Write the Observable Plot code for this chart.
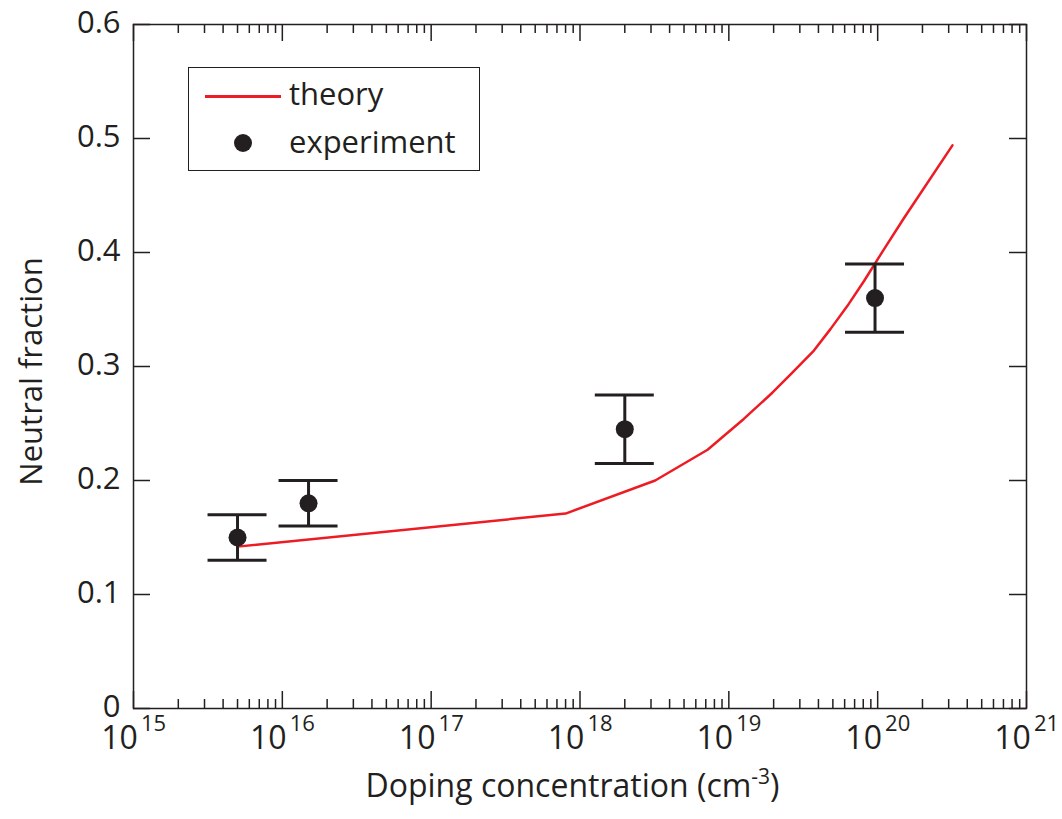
<!DOCTYPE html>
<html>
<head>
<meta charset="utf-8">
<script src="https://cdn.jsdelivr.net/npm/d3@7"></script>
<script src="https://cdn.jsdelivr.net/npm/@observablehq/plot@0.6"></script>
<style>
  html, body { margin: 0; padding: 0; background: #fff; }
  #wrap { position: relative; width: 1062px; height: 819px; font-family: "Open Sans", sans-serif; color: #231f20; }
  #legend { position: absolute; left: 188px; top: 67px; width: 290px; height: 102px; border: 1.5px solid #231f20; background: #fff; }
  #legend .line { position: absolute; left: 16px; top: 27px; width: 76px; height: 2.5px; background: #ed1c24; }
  #legend .dot { position: absolute; left: 44.5px; top: 66px; width: 18px; height: 18px; border-radius: 50%; background: #231f20; }
  #legend .lab { position: absolute; left: 100px; font-size: 31px; line-height: 1; white-space: nowrap; }
  #xtitle { position: absolute; left: 126px; width: 893px; top: 767px; text-align: center; font-size: 32px; line-height: 1; white-space: nowrap; }
  #xtitle sup { font-size: 21px; position: relative; top: -1px; }
</style>
</head>
<body>
<div id="wrap"></div>
<script>
// Theory curve
const theoryX = [5e15, 8e17, 3.2e18, 7.2e18, 1.26e19, 1.96e19, 2.6e19, 3.73e19, 4.83e19, 6.25e19, 8.1e19, 1.08e20, 1.5e20, 3.18e20];
const theoryY = [0.142, 0.171, 0.200, 0.227, 0.254, 0.277, 0.293, 0.314, 0.333, 0.353, 0.375, 0.401, 0.430, 0.494];
// Experiment
const expX  = [5e15, 1.5e16, 2e18, 9.6e19];
const expY  = [0.15, 0.18, 0.245, 0.36];
const expLo = [0.13, 0.16, 0.215, 0.33];
const expHi = [0.17, 0.20, 0.275, 0.39];
// Ticks
const decades = [1e15, 1e16, 1e17, 1e18, 1e19, 1e20, 1e21];
const exponents = ["15", "16", "17", "18", "19", "20", "21"];
const yTicks = [0, 0.1, 0.2, 0.3, 0.4, 0.5, 0.6];
const yTickLabels = ["0", "0.1", "0.2", "0.3", "0.4", "0.5", "0.6"];
const minorX = [];
for (let e = 15; e < 21; e++) for (let m = 2; m <= 9; m++) minorX.push(m * Math.pow(10, e));

const theory = theoryX.map((x, i) => ({x, y: theoryY[i]}));
const exp = expX.map((x, i) => ({x, y: expY[i], lo: expLo[i], hi: expHi[i]}));
const decadeData = decades.map((d, i) => ({d, e: exponents[i]}));

const W = 1062, H = 770, mt = 24, mb = 62, ml = 133, mr = 36;
const pw = W - ml - mr, ph = H - mt - mb;
const ink = "#231f20";
const majorLen = 17, minorLen = 9, capHalf = 29.5;

const plot = Plot.plot({
  width: W, height: H,
  marginTop: mt, marginBottom: mb, marginLeft: ml, marginRight: mr,
  style: {fontFamily: "'Open Sans', sans-serif", color: ink, background: "#fff"},
  x: {type: "log", domain: [1e15, 1e21], axis: null},
  y: {domain: [0, 0.6], axis: null},
  marks: [
    // y tick labels
    Plot.text(yTicks, {y: d => d, text: (d, i) => yTickLabels[i], frameAnchor: "left", dx: -13, dy: -1, textAnchor: "end", fontSize: 31, fill: ink}),
    // x tick labels "10" + exponent
    Plot.text(decadeData, {x: "d", text: () => "10", frameAnchor: "bottom", dx: -14, dy: 40, fontSize: 32, fill: ink}),
    Plot.text(decadeData, {x: "d", text: "e", frameAnchor: "bottom", dx: 20, dy: 22, fontSize: 22, fill: ink}),
    // y title
    Plot.text(["Neutral fraction"], {text: d => d, frameAnchor: "left", textAnchor: "middle", rotate: -90, dx: -101, dy: 5, fontSize: 31, fill: ink}),
    // major/minor ticks (inward, on all four sides)
    Plot.tickX(decades, {x: d => d, insetTop: ph - majorLen, stroke: ink, strokeWidth: 1.5}),
    Plot.tickX(decades, {x: d => d, insetBottom: ph - majorLen, stroke: ink, strokeWidth: 1.5}),
    Plot.tickX(minorX, {x: d => d, insetTop: ph - minorLen, stroke: ink, strokeWidth: 1.5}),
    Plot.tickX(minorX, {x: d => d, insetBottom: ph - minorLen, stroke: ink, strokeWidth: 1.5}),
    Plot.tickY(yTicks, {y: d => d, insetRight: pw - majorLen, stroke: ink, strokeWidth: 1.5}),
    Plot.tickY(yTicks, {y: d => d, insetLeft: pw - majorLen, stroke: ink, strokeWidth: 1.5}),
    // theory
    Plot.line(theory, {x: "x", y: "y", stroke: "#ed1c24", strokeWidth: 2.5}),
    // error bars
    Plot.ruleX(exp, {x: "x", y1: "lo", y2: "hi", stroke: ink, strokeWidth: 3}),
    Plot.ruleY(exp, {y: "lo", x1: "x", x2: "x", insetLeft: -capHalf, insetRight: -capHalf, stroke: ink, strokeWidth: 3}),
    Plot.ruleY(exp, {y: "hi", x1: "x", x2: "x", insetLeft: -capHalf, insetRight: -capHalf, stroke: ink, strokeWidth: 3}),
    Plot.dot(exp, {x: "x", y: "y", r: 9, fill: ink, stroke: "none"}),
    Plot.frame({stroke: ink, strokeWidth: 1.5})
  ]
});

const wrap = document.getElementById("wrap");
plot.style.position = "absolute";
plot.style.left = "0px";
plot.style.top = "0px";
wrap.appendChild(plot);

const legend = document.createElement("div");
legend.id = "legend";
legend.innerHTML = '<div class="line"></div><div class="lab" style="top:10px">theory</div>' +
                   '<div class="dot"></div><div class="lab" style="top:58px">experiment</div>';
wrap.appendChild(legend);

const xt = document.createElement("div");
xt.id = "xtitle";
xt.innerHTML = 'Doping concentration (cm<sup>-3</sup>)';
wrap.appendChild(xt);
</script>
</body>
</html>
